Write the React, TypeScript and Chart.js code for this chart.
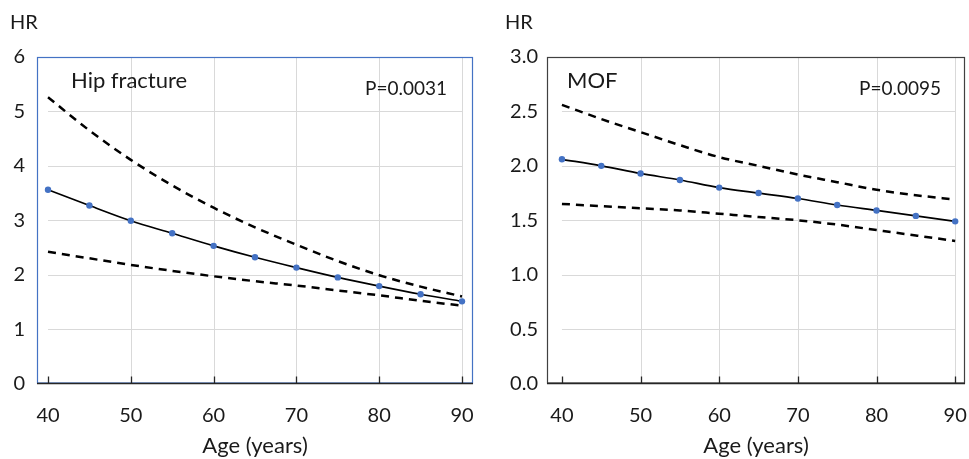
import { useEffect, useRef } from 'react';
import { Chart, registerables } from 'chart.js';

Chart.register(...registerables);

const ages = [40, 45, 50, 55, 60, 65, 70, 75, 80, 85, 90];
const hipHR = [3.56, 3.27, 2.99, 2.76, 2.53, 2.32, 2.13, 1.95, 1.79, 1.64, 1.51];
const hipUpper = [5.26, 4.65, 4.11, 3.64, 3.23, 2.87, 2.55, 2.25, 1.99, 1.78, 1.60];
const hipLower = [2.42, 2.30, 2.18, 2.07, 1.97, 1.88, 1.80, 1.71, 1.62, 1.52, 1.43];
const mofHR = [2.06, 2.00, 1.93, 1.87, 1.80, 1.75, 1.70, 1.64, 1.59, 1.54, 1.49];
const mofUpper = [2.56, 2.43, 2.31, 2.19, 2.08, 2.00, 1.92, 1.85, 1.78, 1.73, 1.69];
const mofLower = [1.65, 1.63, 1.61, 1.59, 1.56, 1.53, 1.50, 1.46, 1.41, 1.36, 1.31];
const xTicks = [40, 50, 60, 70, 80, 90];
const xGrid = [50, 60, 70, 80, 90];
const hipYTicks = [0, 1, 2, 3, 4, 5, 6];
const hipYGrid = [1, 2, 3, 4, 5];
const mofYTicks = [0, 0.5, 1, 1.5, 2, 2.5, 3];
const mofYGrid = [0.5, 1, 1.5, 2, 2.5];

const FONT = 'Lato, "Noto Sans", sans-serif';
const TEXT = '#1a1a1a';
const BLUE = '#4472C4';

const panelPlugin = {
  id: 'panel',
  beforeDatasetsDraw(chart: any, _a: any, o: any) {
    const { ctx, chartArea: ca, scales } = chart;
    const x = scales.x, y = scales.y;
    ctx.save();
    ctx.strokeStyle = '#d9d9d9';
    ctx.lineWidth = 1;
    const gx0 = x.getPixelForValue(o.gridFrom);
    const gx1 = x.getPixelForValue(o.gridTo);
    o.yGrid.forEach((v: number) => {
      const py = Math.round(y.getPixelForValue(v)) + 0.5;
      ctx.beginPath(); ctx.moveTo(gx0, py); ctx.lineTo(gx1, py); ctx.stroke();
    });
    o.xGrid.forEach((v: number) => {
      const px = Math.round(x.getPixelForValue(v)) + 0.5;
      ctx.beginPath(); ctx.moveTo(px, ca.top); ctx.lineTo(px, ca.bottom); ctx.stroke();
    });
    ctx.strokeStyle = o.borderColor;
    ctx.lineWidth = 1.2;
    ctx.strokeRect(ca.left + 0.5, ca.top + 0.5, ca.width - 1, ca.height - 1);
    ctx.strokeStyle = '#262626';
    ctx.lineWidth = 1.6;
    ctx.beginPath(); ctx.moveTo(ca.left, ca.bottom); ctx.lineTo(ca.right, ca.bottom); ctx.stroke();
    ctx.lineWidth = 1.3;
    o.xTicks.forEach((v: number) => {
      const px = Math.round(x.getPixelForValue(v)) + 0.5;
      ctx.beginPath(); ctx.moveTo(px, ca.bottom); ctx.lineTo(px, ca.bottom - 7); ctx.stroke();
    });
    ctx.restore();
  },
  afterDraw(chart: any, _a: any, o: any) {
    const { ctx, chartArea: ca } = chart;
    ctx.save();
    ctx.fillStyle = TEXT;
    ctx.textBaseline = 'middle';
    ctx.font = `20px ${FONT}`;
    ctx.textAlign = 'left';
    ctx.fillText('HR', o.hrX, 23);
    ctx.font = `22px ${FONT}`;
    ctx.fillText(o.label, ca.left + o.labelDx, 81);
    ctx.font = `19px ${FONT}`;
    ctx.textAlign = 'right';
    ctx.fillText(o.pText, ca.right - o.pDx, 89);
    ctx.restore();
  },
};

function makeConfig(p: any) {
  const pts = (arr: number[]) => ages.map((a, i) => ({ x: a, y: arr[i] }));
  const dashed = (arr: number[]) => ({
    data: pts(arr),
    borderColor: '#000',
    borderWidth: 2.5,
    borderDash: [8, 6],
    pointRadius: 0,
    cubicInterpolationMode: 'monotone',
    fill: false,
  });
  return {
    type: 'line',
    data: {
      datasets: [
        dashed(p.upper),
        dashed(p.lower),
        {
          data: pts(p.hr),
          borderColor: '#000',
          borderWidth: 1.7,
          pointRadius: 3.2,
          pointBackgroundColor: BLUE,
          pointBorderColor: BLUE,
          pointBorderWidth: 0,
          cubicInterpolationMode: 'monotone',
          fill: false,
        },
      ],
    },
    options: {
      animation: false,
      responsive: false,
      maintainAspectRatio: false,
      layout: { padding: { top: 57, right: p.padRight, left: 0, bottom: 0 } },
      plugins: {
        legend: { display: false },
        tooltip: { enabled: false },
        panel: {
          gridFrom: 40, gridTo: 90,
          yGrid: p.yGrid, xGrid, xTicks,
          borderColor: p.borderColor,
          hrX: p.hrX, label: p.label, labelDx: p.labelDx, pText: p.pText, pDx: p.pDx,
        },
      },
      scales: {
        x: {
          type: 'linear',
          min: p.xMin,
          max: p.xMax,
          afterBuildTicks: (s: any) => { s.ticks = xTicks.map((v) => ({ value: v })); },
          afterFit: (s: any) => { s.height = 75.5; s.paddingLeft = 0; s.paddingRight = 0; },
          grid: { display: false, drawTicks: false },
          border: { display: false },
          ticks: { color: TEXT, font: { family: FONT, size: 20 }, padding: 20, maxRotation: 0, autoSkip: false },
          title: { display: true, text: 'Age (years)', color: TEXT, font: { family: FONT, size: 22 }, padding: { top: 0, bottom: 0 } },
        },
        y: {
          type: 'linear',
          min: p.yMin,
          max: p.yMax,
          afterBuildTicks: (s: any) => { s.ticks = p.yTicks.map((v: number) => ({ value: v })); },
          afterFit: (s: any) => { s.width = p.yWidth; s.paddingTop = 0; s.paddingBottom = 0; },
          grid: { display: false, drawTicks: false },
          border: { display: false },
          ticks: {
            color: TEXT,
            font: { family: FONT, size: 20 },
            padding: p.yPad,
            callback: (v: any) => p.yFmt(Number(v)),
          },
        },
      },
    },
    plugins: [panelPlugin],
  } as any;
}

function Panel(props: { cfg: any; left: number; width: number }) {
  const ref = useRef<HTMLCanvasElement>(null);
  useEffect(() => {
    if (!ref.current) return;
    const chart = new Chart(ref.current, makeConfig(props.cfg));
    return () => chart.destroy();
  }, []);
  return (
    <canvas
      ref={ref}
      width={props.width}
      height={459}
      style={{ position: 'absolute', left: props.left, top: 0, width: props.width, height: 459 }}
    />
  );
}

const hipCfg = {
  upper: hipUpper, lower: hipLower, hr: hipHR,
  yMin: 0, yMax: 6, yTicks: hipYTicks, yGrid: hipYGrid, yFmt: (v: number) => String(v),
  xMin: 38.67, xMax: 91.33, yWidth: 37, yPad: 12, padRight: 11,
  borderColor: BLUE, hrX: 10, label: 'Hip fracture', labelDx: 34, pText: 'P=0.0031', pDx: 26,
};
const mofCfg = {
  upper: mofUpper, lower: mofLower, hr: mofHR,
  yMin: 0, yMax: 3, yTicks: mofYTicks, yGrid: mofYGrid, yFmt: (v: number) => v.toFixed(1),
  xMin: 38.1, xMax: 91.25, yWidth: 63, yPad: 9, padRight: 2,
  borderColor: '#404040', hrX: 21, label: 'MOF', labelDx: 20, pText: 'P=0.0095', pDx: 24,
};

export default function App() {
  return (
    <div style={{ position: 'absolute', left: 0, top: 0, width: 969, height: 459, background: '#fff' }}>
      <Panel cfg={hipCfg} left={0} width={484} />
      <Panel cfg={mofCfg} left={484} width={485} />
    </div>
  );
}
